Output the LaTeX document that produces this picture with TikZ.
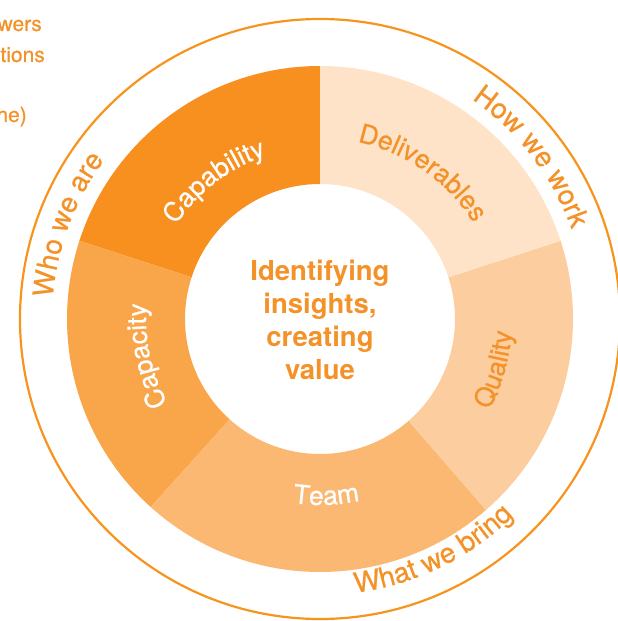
\documentclass[tikz,border=0pt]{standalone}
\usepackage{fontspec}
\setmainfont{TeX Gyre Heros}
\newfontfamily\medfont[FakeBold=0.6]{TeX Gyre Heros}
\usetikzlibrary{decorations.text}

\definecolor{capab}{HTML}{F7901E}
\definecolor{capac}{HTML}{F9A64B}
\definecolor{teamc}{HTML}{FBB873}
\definecolor{qualc}{HTML}{FCCD9E}
\definecolor{delivc}{HTML}{FEE3C8}
\definecolor{txtorange}{HTML}{F4922A}
\definecolor{ringorange}{HTML}{F7941D}

\tikzset{
	ringtext/.style={decorate, decoration={text along path, text align=center,
		text={|\medfont\fontsize{28}{33}\selectfont\color{txtorange}|#1}}},
	segtext/.style 2 args={decorate, decoration={text along path, text align=center,
		text={|\medfont\fontsize{26.5}{31}\selectfont\color{#1}|#2}}},
	sidetext/.style={anchor=base east, text=txtorange, font=\medfont\fontsize{21}{25}\selectfont, inner sep=0pt},
	centertext/.style={align=center, text=txtorange, font=\bfseries\fontsize{27.5}{33}\selectfont},
}

\begin{document}
\begin{tikzpicture}[x=1pt,y=1pt]
		\useasboundingbox (0,0) rectangle (618,621);

		%Texto cortado
		\node[sidetext] (side1) at (42,590) {Powers};
		\node[sidetext] (side2) at (45,559) {Questions};
		\node[sidetext] (side3) at (27,499) {(one)};

		\begin{scope}[shift={(320,302)}]
		%Anillo exterior
		\draw [ringorange, line width=2.2] (0,0) circle (300);

		%Segmentos
		\fill [capab] (162:253) arc[start angle=162, end angle=90, radius=253]--(90:135) arc[start angle=90, end angle=162, radius=135]--cycle;
		\fill [capac] (228:253) arc[start angle=228, end angle=162, radius=253]--(162:135) arc[start angle=162, end angle=228, radius=135]--cycle;
		\fill [teamc] (311:253) arc[start angle=311, end angle=228, radius=253]--(228:135) arc[start angle=228, end angle=311, radius=135]--cycle;
		\fill [qualc] (378:253) arc[start angle=378, end angle=311, radius=253]--(311:135) arc[start angle=311, end angle=378, radius=135]--cycle;
		\fill [delivc] (90:253) arc[start angle=90, end angle=18, radius=253]--(18:135) arc[start angle=18, end angle=90, radius=135]--cycle;

		%Etiquetas de segmentos
		\path [segtext={white}{Capability}] (165:172) arc[start angle=165, end angle=90, radius=172];
		\path [segtext={white}{Capacity}] (230:174) arc[start angle=230, end angle=154, radius=174];
		\path [segtext={white}{Team}] (252:186) arc[start angle=252, end angle=292, radius=186];
		\path [segtext={txtorange}{Quality}] (-50:192) arc[start angle=-50, end angle=18, radius=192];
		\path [segtext={txtorange}{Deliverables}] (100:181) arc[start angle=100, end angle=10, radius=181];

		%Etiquetas del anillo
		\path [ringtext={Who we are}] (199:268) arc[start angle=199, end angle=120, radius=268];
		\path [ringtext={How we work}] (80:267) arc[start angle=80, end angle=-5, radius=267];
		\path [ringtext={What we bring}] (-109:276) arc[start angle=-109, end angle=-19, radius=276];

		%Centro
		\node[centertext] (core) at (0,-1) {Identifying\\insights,\\creating\\value};
		\end{scope}
	\end{tikzpicture}
\end{document}
